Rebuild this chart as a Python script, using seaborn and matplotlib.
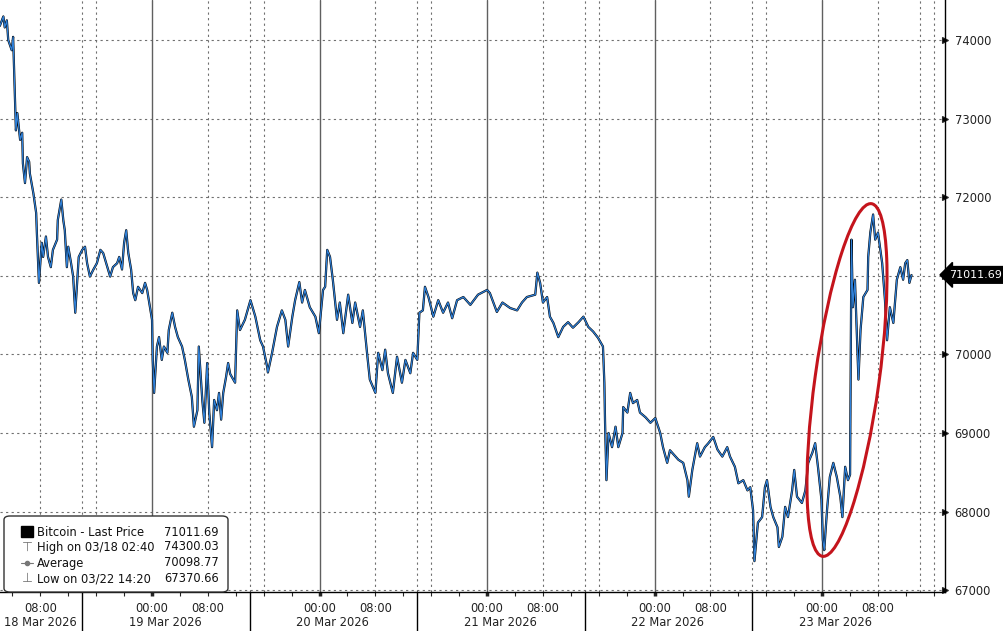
import matplotlib
matplotlib.use("Agg")
import matplotlib.pyplot as plt
import matplotlib.transforms as mtransforms
from matplotlib.patches import Ellipse, FancyBboxPatch, Rectangle
from matplotlib.lines import Line2D
import pandas as pd
import seaborn as sns

# hours since 18 Mar 2026 00:00, Bitcoin last price
hours = [2.2, 2.7, 2.9, 3.2, 3.4, 3.9, 4.1, 4.2, 4.4, 4.5, 4.7, 5.1, 5.4, 5.5, 5.8, 6.1, 6.4, 6.5,
         7.0, 7.4, 7.5, 7.8, 8.2, 8.4, 8.8, 9.1, 9.5, 9.8, 10.4, 10.5, 11.0, 11.3, 11.5, 11.8,
         12.0, 12.4, 12.7, 13.0, 13.3, 13.5, 14.0, 14.4, 14.7, 15.1, 15.6, 16.1, 16.6, 17.0,
         17.6, 18.0, 18.4, 19.0, 19.3, 19.7, 20.0, 20.3, 20.6, 21.0, 21.3, 21.6, 22.0, 22.6,
         23.0, 23.3, 23.7, 24.0, 24.1, 24.3, 24.7, 25.0, 25.4, 25.7, 26.2, 26.4, 26.9, 27.3,
         27.7, 28.3, 28.7, 29.2, 29.7, 30.0, 30.5, 30.7, 31.2, 31.5, 31.9, 32.2, 32.6, 32.9,
         33.3, 33.6, 33.9, 34.2, 34.6, 34.9, 35.2, 35.9, 36.2, 36.6, 37.3, 38.1, 38.8, 39.5,
         39.9, 40.5, 40.6, 41.2, 41.9, 42.6, 43.1, 43.5, 44.1, 44.5, 45.1, 45.5, 45.9, 46.6,
         47.4, 47.9, 48.5, 48.8, 49.1, 49.5, 49.9, 50.5, 50.9, 51.4, 52.1, 52.7, 53.1, 53.8,
         54.2, 54.8, 55.2, 56.0, 56.4, 57.0, 57.4, 57.8, 58.5, 59.1, 59.8, 60.3, 61.0, 61.4,
         62.0, 62.3, 62.8, 63.1, 63.6, 64.3, 65.0, 65.7, 66.4, 67.0, 67.7, 68.6, 69.6, 70.7,
         72.0, 72.4, 73.4, 74.2, 75.3, 76.3, 77.0, 77.7, 78.9, 79.2, 79.6, 80.0, 80.6, 81.0,
         81.5, 82.2, 82.9, 83.6, 84.3, 85.1, 85.8, 86.5, 87.2, 87.9, 88.6, 88.8, 88.9, 89.1,
         89.4, 89.9, 90.4, 90.8, 91.4, 91.5, 92.1, 92.5, 92.9, 93.5, 93.9, 94.7, 95.4, 96.1,
         96.8, 97.2, 97.8, 98.2, 99.0, 99.4, 100.1, 100.7, 100.9, 101.4, 102.1, 102.5, 103.2,
         103.7, 104.4, 105.0, 105.7, 106.4, 106.8, 107.5, 108.0, 108.7, 109.3, 109.7, 110.1,
         110.3, 110.8, 111.4, 111.8, 112.1, 112.6, 113.0, 113.6, 113.8, 114.3, 114.7, 115.1,
         115.7, 116.0, 116.4, 117.1, 117.6, 118.0, 118.6, 119.0, 119.4, 119.9, 120.1, 120.3,
         120.7, 121.1, 121.6, 122.1, 122.6, 122.9, 123.3, 123.7, 124.0, 124.2, 124.4, 124.7,
         125.2, 125.5, 125.9, 126.5, 126.6, 126.9, 127.3, 127.6, 128.0, 128.6, 129.0, 129.3,
         129.7, 130.2, 130.7, 131.2, 131.6, 131.9, 132.2, 132.5, 132.8]
price = [74180, 74300, 74160, 74250, 74000, 73870, 74040, 73750, 73150, 72850, 73070, 72730, 72820, 72430,
         72180, 72510, 72450, 72300, 72050, 71800, 71550, 70910, 71420, 71240, 71500, 71240, 71110, 71330,
         71460, 71710, 71970, 71700, 71580, 71110, 71370, 71160, 70990, 70530, 70950, 71240, 71330, 71370,
         71160, 70990, 71080, 71160, 71330, 71290, 71110, 70990, 71110, 71160, 71240, 71080, 71420, 71580,
         71290, 71080, 70780, 70690, 70860, 70780, 70910, 70820, 70600, 70440, 69930, 69510, 70100, 70220,
         69930, 70100, 70020, 70310, 70530, 70350, 70220, 70100, 69930, 69680, 69460, 69080, 69290, 70100,
         69420, 69130, 69890, 69260, 68820, 69420, 69290, 69510, 69170, 69510, 69710, 69890, 69750, 69640,
         70560, 70310, 70440, 70690, 70480, 70180, 70100, 69840, 69770, 70020, 70350, 70560, 70440, 70100,
         70480, 70690, 70920, 70660, 70820, 70600, 70480, 70270, 70820, 70860, 71330, 71240, 70950, 70440,
         70660, 70270, 70760, 70400, 70660, 70350, 70560, 70020, 69680, 69510, 70020, 69800, 70060, 69760,
         69510, 69970, 69640, 69930, 69760, 70020, 69930, 70530, 70560, 70860, 70730, 70480, 70690, 70530,
         70660, 70460, 70690, 70730, 70630, 70760, 70820, 70780, 70540, 70660, 70590, 70560, 70660, 70730,
         70760, 71040, 70910, 70660, 70730, 70480, 70400, 70220, 70350, 70410, 70340, 70410, 70480, 70350,
         70290, 70210, 70100, 69640, 69130, 68400, 69000, 68820, 69080, 68820, 69000, 69330, 69260, 69510,
         69380, 69420, 69260, 69200, 69130, 69190, 69000, 68820, 68620, 68780, 68700, 68660, 68620, 68400,
         68190, 68530, 68870, 68700, 68820, 68870, 68950, 68790, 68700, 68820, 68700, 68570, 68360, 68400,
         68270, 68310, 68020, 67370, 67860, 67930, 68310, 68400, 68060, 67930, 67800, 67550, 67680, 68060,
         67930, 68270, 68530, 68190, 68110, 68270, 68620, 68750, 68870, 68570, 68150, 67640, 67510, 68020,
         68440, 68620, 68440, 68190, 67930, 68570, 68400, 68470, 71460, 70600, 70950, 69680, 70310, 70730,
         70820, 71240, 71550, 71780, 71460, 71550, 71160, 70690, 70180, 70600, 70400, 70950, 71110, 70950,
         71160, 71200, 70910, 71010]

y_ticks = [67000, 68000, 69000, 70000, 71000, 72000, 73000, 74000]
day_names = ["18 Mar 2026", "19 Mar 2026", "20 Mar 2026", "21 Mar 2026", "22 Mar 2026", "23 Mar 2026"]
legend_labels = ["Bitcoin - Last Price", "High on 03/18 02:40", "Average", "Low on 03/22 14:20"]
legend_values = ["71011.69", "74300.03", "70098.77", "67370.66"]
last_price = 71011.69

df = pd.DataFrame({"hour": hours, "price": price})

sns.set_style("white")
plt.rcParams["font.family"] = ["DejaVu Sans"]

W, H = 1004, 631
fig = plt.figure(figsize=(W / 100, H / 100), dpi=100)
ax = fig.add_axes([0, 39 / H, 945 / W, 592 / H])

sns.lineplot(data=df, x="hour", y="price", color="black", lw=1.6, estimator=None, sort=False, ax=ax, zorder=3)
sns.lineplot(data=df, x="hour", y="price", color="#2f80d8", lw=0.9, estimator=None, sort=False, ax=ax, zorder=4)

ax.set_xlim(2.22, 137.6)
ax.set_ylim(66977, 74509)
ax.set_xlabel("")
ax.set_ylabel("")

for s in ["top", "left"]:
    ax.spines[s].set_visible(False)
for s in ["bottom", "right"]:
    ax.spines[s].set_color("black")
    ax.spines[s].set_linewidth(1.0)

# grid
dot = (0, (2, 3))
for v in y_ticks:
    ax.axhline(v, color="#707070", lw=0.8, ls=dot, zorder=1)
blend = mtransforms.blended_transform_factory(ax.transData, ax.transAxes)
for d in range(6):
    base = 24 * d
    if d > 0:
        ax.axvline(base, color="#606060", lw=1.0, zorder=1)
    for off in (8, 14, 16):
        ax.axvline(base + off, color="#707070", lw=0.8, ls=dot, zorder=1)
    if d < 5:
        # day separator below the axis
        sep = Line2D([base + 14, base + 14], [0, -0.07], transform=blend, color="black", lw=1.0, clip_on=False)
        ax.add_line(sep)

# y axis on the right
ax.yaxis.tick_right()
ax.set_yticks(y_ticks)
ax.set_yticklabels(["" if v == 71000 else str(v) for v in y_ticks])
ax.tick_params(axis="y", which="major", length=0, pad=7, labelsize=8.3, labelcolor="#222222")
for t in ax.yaxis.get_major_ticks():
    t.tick2line.set_marker(">")
    t.tick2line.set_markersize(4)
    t.tick2line.set_color("black")

# x axis ticks
xt = []
xl = []
for d in range(6):
    if d > 0:
        xt.append(24 * d)
        xl.append("00:00")
    xt.append(24 * d + 8)
    xl.append("08:00")
ax.set_xticks(xt)
ax.set_xticklabels(xl)
ax.set_xticks([h for h in range(4, 137, 4)], minor=True)
ax.tick_params(axis="x", which="both", direction="out", length=3, width=0.8, pad=4,
               labelsize=8.3, labelcolor="#222222", bottom=True)
for t, v in zip(ax.xaxis.get_major_ticks(), xt):
    if v % 24 == 0:
        t.tick1line.set_markeredgewidth(2.5)

day_pos = [8] + [24 * d + 1.9 for d in range(1, 6)]
for pos, name in zip(day_pos, day_names):
    ax.text(pos, -0.051, name, transform=blend, ha="center", va="center",
            fontsize=8.3, color="#222222", clip_on=False)

# last price tag
tag_tr = mtransforms.blended_transform_factory(ax.transAxes, ax.transData)
ax.text(1.0045, last_price, f"{last_price:.2f}", transform=tag_tr, ha="left", va="center",
        fontsize=8.0, color="white", zorder=10, clip_on=False,
        bbox=dict(boxstyle="larrow,pad=0.3", fc="black", ec="black"))

# red ellipse highlight
ell = Ellipse((8.47, (H - 380) / 100), 0.64, 3.56, angle=-7.9, transform=fig.dpi_scale_trans,
              fill=False, ec="#c4141c", lw=2.2, zorder=6)
fig.patches.append(ell)


# legend box
def fx(x):
    return x / W


def fy(y):
    return 1 - y / H


box = FancyBboxPatch((fx(4), fy(592)), fx(224), 76 / H, boxstyle="round,pad=0,rounding_size=0.006",
                     transform=fig.transFigure, fc="white", ec="#333333", lw=1.0, zorder=20)
fig.patches.append(box)

rows_y = [532, 547, 563, 579]
for yy, lab, val in zip(rows_y, legend_labels, legend_values):
    fig.text(fx(37), fy(yy), lab, ha="left", va="center", fontsize=8.3, color="#111111", zorder=21)
    fig.text(fx(219), fy(yy), val, ha="right", va="center", fontsize=8.3, color="#111111", zorder=21)

# tree lines and icons
gray = "#777777"
fig.lines.append(Line2D([fx(10), fx(17), fx(17), fx(10), fx(10)],
                        [fy(527), fy(527), fy(535), fy(535), fy(527)], transform=fig.transFigure, color=gray, lw=0.8))
fig.lines.append(Line2D([fx(11.5), fx(15.5)], [fy(531), fy(531)], transform=fig.transFigure, color=gray, lw=0.8))
fig.lines.append(Line2D([fx(13.5), fx(13.5)], [fy(535), fy(579)], transform=fig.transFigure, color=gray, lw=0.8))
for yy in rows_y[1:]:
    fig.lines.append(Line2D([fx(13.5), fx(19)], [fy(yy), fy(yy)], transform=fig.transFigure, color=gray, lw=0.8))
fig.patches.append(Rectangle((fx(21), fy(537)), fx(12), 11 / H, transform=fig.transFigure,
                             fc="black", ec="black", zorder=22))
fig.text(fx(27), fy(547), "\u22a4", ha="center", va="center", fontsize=9, color=gray, zorder=22)
fig.lines.append(Line2D([fx(21), fx(33)], [fy(563), fy(563)], transform=fig.transFigure, color=gray, lw=0.8,
                        zorder=22))
fig.lines.append(Line2D([fx(27)], [fy(563)], transform=fig.transFigure, color=gray, marker="o", markersize=3,
                        zorder=22))
fig.text(fx(27), fy(579), "\u22a5", ha="center", va="center", fontsize=9, color=gray, zorder=22)

fig.savefig("out.png", dpi=100)
